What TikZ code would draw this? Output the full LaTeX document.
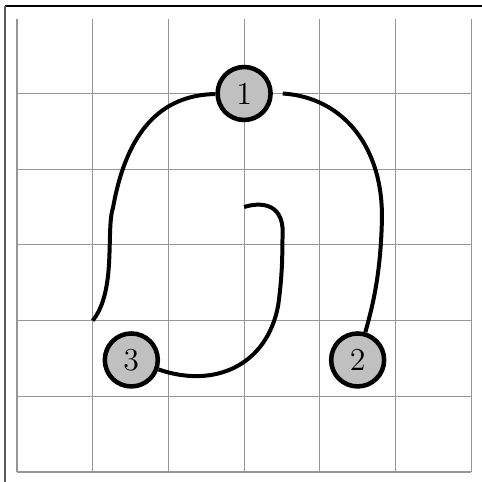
\documentclass[tikz,border=0pt]{standalone}
\definecolor{nodefill}{RGB}{192,192,192}
\definecolor{gridgray}{RGB}{150,150,150}
\definecolor{framegray}{RGB}{90,90,90}
\begin{document}
\begin{tikzpicture}[x=1cm,y=1cm,
  numnode/.style={circle,draw=black,line width=1.7pt,fill=nodefill,minimum size=0.7cm,inner sep=0pt,font=\fontsize{12}{14}\selectfont},
  wire/.style={line width=1.5pt,black},
  gridline/.style={line width=0.45pt,draw=gridgray}]
\useasboundingbox (-0.2246,-0.1321) rectangle (6.1295,6.2351);
% frame (partly outside page)
\draw[line width=0.45pt,black] (-0.16,6.155) -- (6.3,6.155);
\draw[line width=0.6pt,framegray] (-0.16,6.155) -- (-0.16,-0.3);
% grid
\draw[gridline] (0,0) grid (6,5.99);
\node[numnode] (n1) at (3,5) {1};
\node[numnode] (n2) at (4.5,1.48) {2};
\node[numnode] (n3) at (1.51,1.48) {3};
\coordinate (a) at (1.27,3.5);
\coordinate (b) at (1,2);
\coordinate (c) at (3.51,5);
\coordinate (d) at (4.82,3.3);
\coordinate (e) at (3.45,2.2);
\coordinate (f) at (3.51,3.15);
\coordinate (g) at (3,3.5);
\draw[wire] (n1) .. controls (1.9,4.98) and (1.45,4.5) .. (a)
  .. controls (1.17,3.2) and (1.32,2.4) .. (b);
\draw[wire] (c) .. controls (4.3,4.95) and (4.85,4.3) .. (d)
  .. controls (4.8,2.6) and (4.7,2.2) .. (n2);
\draw[wire] (n3) .. controls (2.6,1.1) and (3.3,1.4) .. (e)
  .. controls (3.52,2.7) and (3.5,3.0) .. (f)
  .. controls (3.52,3.6) and (3.15,3.55) .. (g);
\end{tikzpicture}
\end{document}
